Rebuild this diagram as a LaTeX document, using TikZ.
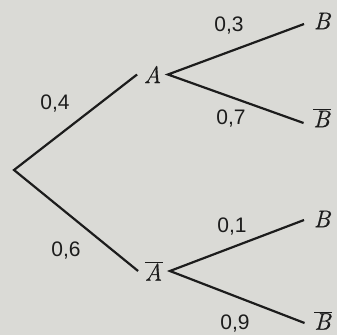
\documentclass[tikz,border=0pt]{standalone}
\usepackage{fontspec}
\newfontfamily\labfont{Liberation Sans}
\newfontfamily\evfont{Latin Modern Roman}[FakeBold=0.6]
\definecolor{bg}{RGB}{218,218,214}
\definecolor{ink}{RGB}{28,28,28}
\newcommand\barred[1]{$\overline{\hbox{\evfont\itshape #1\kern1pt}}$}
\begin{document}
\begin{tikzpicture}[x=1pt,y=-1pt,
  ev/.style={inner ysep=1pt, inner xsep=6.5pt, font=\evfont\fontsize{24}{28}\selectfont\itshape, text=ink},
  leaf/.style={ev, inner xsep=9.5pt},
  prob/.style={font=\labfont\fontsize{21}{25}\selectfont, text=ink, inner sep=0pt},
  branch/.style={draw=ink, line width=2.2pt, line join=miter}]
\fill[bg] (0,0) rectangle (337,335);
\useasboundingbox (0,0) rectangle (337,335);
\coordinate (O) at (14,170);
\node[ev] (A) at (152.5,74.5) {A};
\node[ev] (Ab) at (154,271) {\barred{A}};
\node[leaf] (B1) at (322,21) {B};
\node[leaf] (Bb1) at (322,118) {\barred{B}};
\node[leaf] (B2) at (322,219) {B};
\node[leaf] (Bb2) at (323,320.5) {\barred{B}};
\draw[branch] (A.west) -- (O) -- (Ab.west);
\draw[branch] ([yshift=-3pt]B1.west) -- (A.east) -- ([yshift=-5pt]Bb1.west);
\draw[branch] ([yshift=-1pt]B2.west) -- (Ab.east) -- ([yshift=-2.5pt]Bb2.west);
\node[prob] (p1) at (55,104) {0,4};
\node[prob] (p2) at (66,251) {0,6};
\node[prob] (p3) at (229,26) {0,3};
\node[prob] (p4) at (231,119) {0,7};
\node[prob] (p5) at (232,227) {0,1};
\node[prob] (p6) at (235,324) {0,9};
\end{tikzpicture}
\end{document}
